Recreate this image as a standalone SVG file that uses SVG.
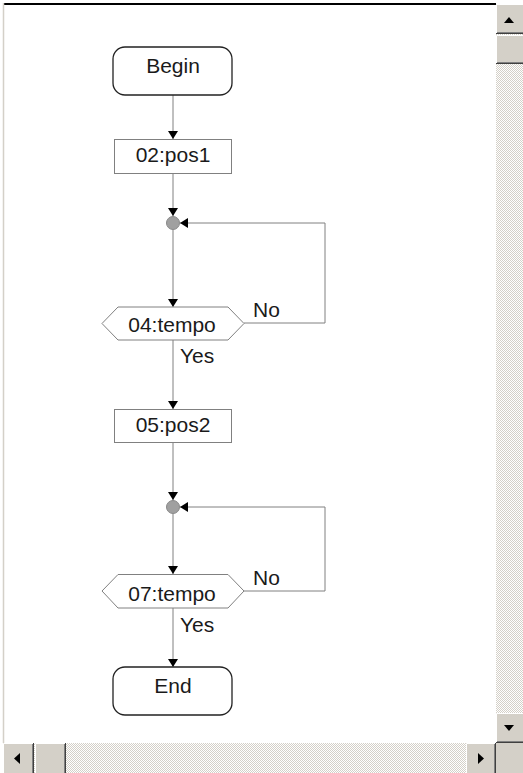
<svg xmlns="http://www.w3.org/2000/svg" width="523" height="773" viewBox="0 0 523 773">
<defs>
<style>
.lbl{font-family:"Liberation Sans",Arial,sans-serif;font-size:21px;fill:#1a1a1a}
.term{fill:#fff;stroke:#222;stroke-width:1.3}
.box{fill:#fff;stroke:#808080;stroke-width:1}
.conn{fill:none;stroke:#808080;stroke-width:1}
.jn{fill:#a0a0a0;stroke:#888;stroke-width:1}
.btn{fill:#d4d0c8}
.hl{stroke:#fff;stroke-width:1;fill:none}
.sh{stroke:#808080;stroke-width:1;fill:none}
.dk{stroke:#404040;stroke-width:1;fill:none}
</style>
<marker id="ah" viewBox="0 0 8 10" refX="8" refY="5" markerWidth="8" markerHeight="10" markerUnits="userSpaceOnUse" orient="auto">
<path d="M0,0 L8,5 L0,10 z" fill="#000"/>
</marker>
<pattern id="dots" width="2" height="2" patternUnits="userSpaceOnUse">
<rect width="2" height="2" fill="#fff"/>
<rect width="1" height="1" fill="#d4d0c8"/>
<rect x="1" y="1" width="1" height="1" fill="#d4d0c8"/>
</pattern>
</defs>
<rect width="523" height="773" fill="#fff"/>
<!-- window border -->
<line x1="3" y1="4" x2="496" y2="4" stroke="#000" stroke-width="2"/>
<line x1="3.5" y1="3" x2="3.5" y2="743" stroke="#d4d0c8" stroke-width="1.5"/>

<g id="connectors">
<path class="conn" d="M173,95 V139" marker-end="url(#ah)"/>
<path class="conn" d="M173,173 V216" marker-end="url(#ah)"/>
<path class="conn" d="M173,230 V307" marker-end="url(#ah)"/>
<path class="conn" d="M244,323 H325 V223 H180" marker-end="url(#ah)"/>
<path class="conn" d="M173,340 V409" marker-end="url(#ah)"/>
<path class="conn" d="M173,443 V500" marker-end="url(#ah)"/>
<path class="conn" d="M173,514 V574" marker-end="url(#ah)"/>
<path class="conn" d="M244,591 H325 V507 H180" marker-end="url(#ah)"/>
<path class="conn" d="M173,608 V667" marker-end="url(#ah)"/>
<text class="lbl" x="253" y="317">No</text>
<text class="lbl" x="180" y="363">Yes</text>
<text class="lbl" x="253" y="585">No</text>
<text class="lbl" x="180" y="632">Yes</text>
</g>

<g id="begin">
<rect class="term" x="113" y="47" width="119" height="48" rx="12"/>
<text class="lbl" x="173" y="73" text-anchor="middle">Begin</text>
</g>
<g id="pos1">
<rect class="box" x="114.5" y="139.5" width="117" height="34"/>
<text class="lbl" x="173" y="162" text-anchor="middle">02:pos1</text>
</g>
<g id="junction1">
<circle class="jn" cx="173" cy="223" r="6.5"/>
</g>
<g id="tempo04">
<polygon class="box" points="102,323.5 118,307 228,307 244,323.5 228,340 118,340"/>
<text class="lbl" x="172" y="332" text-anchor="middle">04:tempo</text>
</g>
<g id="pos2">
<rect class="box" x="114.5" y="409.5" width="117" height="33"/>
<text class="lbl" x="173" y="432" text-anchor="middle">05:pos2</text>
</g>
<g id="junction2">
<circle class="jn" cx="173" cy="507" r="6.5"/>
</g>
<g id="tempo07">
<polygon class="box" points="102,591 118,574.5 228,574.5 244,591 228,608 118,608"/>
<text class="lbl" x="172" y="601" text-anchor="middle">07:tempo</text>
</g>
<g id="end">
<rect class="term" x="113" y="667" width="119" height="48" rx="12"/>
<text class="lbl" x="173" y="693" text-anchor="middle">End</text>
</g>

<!-- vertical scrollbar -->
<rect x="496" y="4" width="27" height="739" fill="url(#dots)"/>
<g>
<rect class="btn" x="496" y="4" width="27" height="30"/>
<path class="hl" d="M496.5,33 V4.5 H523"/>
<path class="dk" d="M496,33.5 H523"/>
<path class="sh" d="M497,32.5 H523"/>
<path d="M504,23 L514,23 L509,17 z" fill="#000"/>
</g>
<g>
<rect class="btn" x="496" y="35" width="27" height="29"/>
<path class="hl" d="M496.5,63 V35.5 H523"/>
<path class="dk" d="M496,63.5 H523"/>
<path class="sh" d="M497,62.5 H523"/>
</g>
<g>
<rect class="btn" x="496" y="713" width="27" height="30"/>
<path class="hl" d="M496.5,742 V713.5 H523"/>
<path class="dk" d="M496,742.5 H523"/>
<path class="sh" d="M497,741.5 H523"/>
<path d="M504,725 L514,725 L509,731 z" fill="#000"/>
</g>
<!-- horizontal scrollbar -->
<rect x="3" y="743" width="493" height="30" fill="url(#dots)"/>
<g>
<rect class="btn" x="3" y="743" width="30" height="30"/>
<path class="hl" d="M3.5,773 V743.5 H33"/>
<path class="dk" d="M33.5,743 V773"/>
<path class="sh" d="M32.5,744 V773"/>
<path d="M20,753 L20,764 L14,758.5 z" fill="#000"/>
</g>
<g>
<rect class="btn" x="35" y="743" width="30" height="30"/>
<path class="hl" d="M35.5,773 V743.5 H65"/>
<path class="dk" d="M65.5,743 V773"/>
<path class="sh" d="M64.5,744 V773"/>
</g>
<g>
<rect class="btn" x="466" y="743" width="29" height="30"/>
<path class="hl" d="M466.5,773 V743.5 H495"/>
<path class="dk" d="M495.5,743 V773"/>
<path class="sh" d="M494.5,744 V773"/>
<path d="M478,753 L478,764 L484,758.5 z" fill="#000"/>
</g>
<rect class="btn" x="496" y="743" width="27" height="30"/>
</svg>
